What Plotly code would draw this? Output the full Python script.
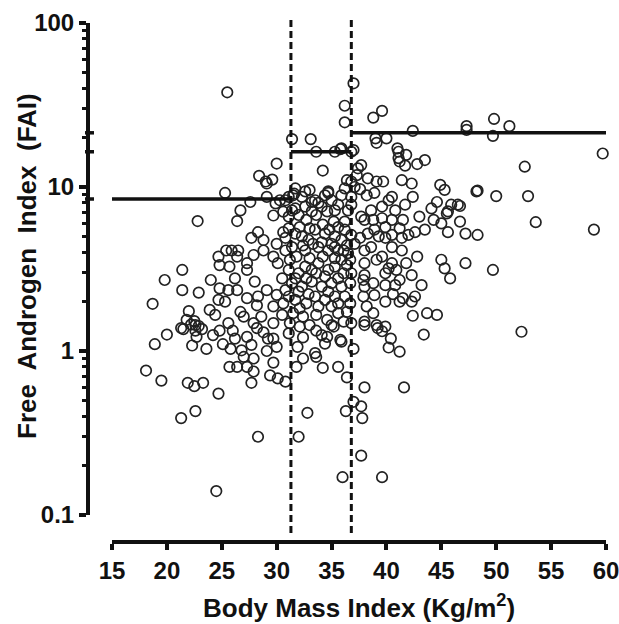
import plotly.graph_objects as go

# ---------------- data ----------------
# BMI cut points (vertical dashed lines) and FAI thresholds for each BMI band
bmi_cuts = [31.3, 36.8]
fai_thresholds = [8.45, 16.4, 21.4]

x_tickvals = [15, 20, 25, 30, 35, 40, 45, 50, 55, 60]
y_tickvals = [0.1, 1, 10, 100]
y_ticktext = ["0.1", "1", "10", "100"]

# Group A: BMI below the first cut
bmi_a = [30.0, 28.4, 29.0, 29.6, 29.1, 25.3, 29.1, 27.6, 30.3, 29.9,
         26.7, 30.6, 26.4, 22.8, 29.7, 30.6, 27.7, 28.3, 28.8, 30.0,
         30.8, 24.7, 25.4, 25.9, 26.5, 27.9, 27.3, 28.8, 29.7, 30.1,
         24.8, 25.7, 26.4, 21.4, 19.8, 21.4, 22.9, 24.0, 26.2, 27.3,
         28.0, 30.5, 24.8, 25.6, 26.4, 24.7, 25.3, 27.3, 28.3, 29.1,
         30.0, 30.8, 28.2, 29.7, 30.6, 18.7, 22.0, 23.9, 24.4, 26.7,
         27.0, 28.6, 30.5, 21.8, 22.6, 25.6, 27.9, 29.7,
         20.0, 18.9, 21.5, 22.6, 22.7, 23.2, 22.3, 23.6, 24.2, 24.8,
         25.1, 25.8, 26.0, 26.2, 27.3, 27.7, 26.8, 27.0, 27.9, 28.2,
         28.8, 29.2, 29.7, 30.0, 29.1, 29.7, 31.1, 25.7, 26.4, 27.3,
         27.9, 29.4, 30.1, 30.8, 18.1, 19.5, 21.9, 22.5, 23.3, 24.7,
         27.7, 22.6, 21.3, 28.3, 24.5,
         25.5, 21.3, 22.2, 22.5, 22.9, 31.1, 31.1, 31.1, 31.1, 31.1,
         31.2, 31.2, 30.8, 30.8]
fai_a = [13.9, 11.7, 10.8, 11.1, 10.5, 9.2, 8.7, 8.1, 8.3, 7.95,
         7.2, 7.07, 6.2, 6.2, 6.7, 5.3, 4.9, 5.3, 4.75, 4.5,
         4.1, 3.76, 4.1, 4.1, 4.1, 3.85, 3.43, 4.1, 3.76, 3.43,
         3.34, 3.27, 3.76, 3.12, 2.71, 2.35, 2.27, 2.71, 2.77, 3.12,
         2.65, 2.77, 2.41, 2.35, 2.35, 2.05, 2.0, 2.1, 2.15, 2.35,
         2.2, 2.35, 1.9, 1.87, 1.95, 1.94, 1.75, 1.78, 1.66, 1.73,
         1.62, 1.62, 1.66, 1.55, 1.44, 1.48, 1.48, 1.48,
         1.26, 1.10, 1.36, 1.33, 1.22, 1.36, 1.08, 1.03, 1.25, 1.33,
         1.10, 1.03, 1.33, 1.19, 1.22, 1.09, 1.01, 0.92, 0.90, 1.38,
         1.30, 1.19, 1.19, 1.06, 1.0, 0.85, 1.28, 0.80, 0.80, 0.80,
         0.75, 0.71, 0.68, 0.65, 0.76, 0.66, 0.64, 0.61, 0.64, 0.55,
         0.64, 0.43, 0.39, 0.30, 0.14,
         37.8, 1.38, 1.45, 1.52, 1.42, 8.7, 6.6, 5.6, 3.12, 2.15,
         1.48, 3.6, 8.3, 4.9]

# Group B: BMI between the two cuts
bmi_b = [33.6, 35.3, 34.2, 34.7, 34.4, 32.6, 31.5, 33.2, 33.8, 35.3,
         33.2, 31.4, 32.0, 36.2, 36.2, 35.3, 35.9, 35.0, 34.4, 33.5,
         32.9, 32.3, 31.7, 31.4, 32.6, 33.8, 34.7, 35.6, 36.5,
         31.7, 32.6, 34.1, 34.6, 33.6, 32.7, 32.1, 35.2, 36.2, 36.5,
         35.6, 36.4, 36.4, 36.7, 36.4, 36.1, 35.3, 34.7, 33.8, 33.2,
         32.6, 32.0, 31.4, 32.3, 33.2, 34.1, 35.0, 35.9, 36.7, 36.2,
         35.3, 34.4, 33.5, 32.7, 31.7, 31.5, 32.4, 33.6, 34.6, 35.6,
         36.4, 36.1, 35.0, 33.0,
         31.7, 33.0, 33.5, 35.0, 35.9, 32.3, 34.2, 34.8, 35.6, 33.0,
         32.4, 33.3, 34.1, 35.3, 36.1, 31.8, 33.0, 34.2, 35.3, 35.9,
         33.6, 34.4, 35.6, 32.7, 31.7, 34.7, 32.9, 32.0, 35.6, 33.8,
         35.0, 32.1, 36.7,
         32.1, 32.4, 31.9, 32.4, 31.8, 33.5, 33.6, 33.6, 34.1, 34.6,
         34.4, 35.2, 35.8, 35.9, 34.2, 35.6, 36.4, 36.3, 32.8, 32.0,
         36.0,
         36.2, 36.2, 35.9, 31.4, 33.1, 35.8, 31.6, 34.7]
fai_b = [16.4, 16.4, 12.6, 9.4, 8.9, 9.4, 8.9, 8.1, 8.0, 7.2,
         7.1, 7.2, 6.75, 9.8, 5.5, 5.0, 4.75, 4.5, 5.2, 5.5,
         4.75, 5.0, 5.2, 4.3, 4.1, 4.3, 4.1, 4.1, 3.95,
         7.4, 7.6, 7.6, 7.1, 6.75, 6.3, 5.7, 6.15, 6.15, 7.2,
         7.8, 11.0, 4.4, 3.6, 3.34, 2.98, 3.27, 3.12, 3.43, 3.12,
         3.27, 2.98, 2.59, 2.47, 2.65, 2.47, 2.59, 2.47, 2.59, 2.15,
         2.15, 2.05, 2.15, 1.95, 2.05, 1.7, 1.62, 1.66, 1.55, 1.7,
         1.73, 1.51, 1.44, 1.44,
         9.8, 9.6, 8.3, 8.3, 8.9, 8.7, 5.9, 5.5, 5.7, 5.6,
         4.4, 4.5, 4.6, 4.3, 4.1, 3.76, 3.68, 3.76, 3.68, 3.6,
         2.98, 2.85, 2.77, 2.77, 2.77, 2.3, 2.22, 2.3, 1.95, 1.87,
         1.87, 1.82, 1.95,
         1.41, 1.21, 1.06, 0.90, 0.80, 0.97, 0.92, 1.33, 1.25, 1.22,
         1.11, 1.41, 1.17, 1.14, 0.79, 0.80, 0.69, 0.43, 0.42, 0.30,
         0.17,
         31.3, 24.8, 17.2, 19.6, 19.6, 17.0, 9.1, 9.2]

# Group C: BMI above the second cut
bmi_c = [36.8, 36.8, 36.8, 36.8, 36.8, 36.8, 36.8,
         41.1, 41.8, 43.5, 41.2, 42.8, 37.7, 37.4, 38.3, 39.1, 39.7,
         41.4, 42.3, 44.9, 45.3, 48.2, 37.1, 37.6, 38.2, 38.9, 40.2,
         40.5, 41.7, 42.4, 44.6, 45.9, 46.5, 45.6, 44.1, 43.0, 38.0,
         38.8, 39.6, 40.5, 41.5, 44.3, 45.0, 46.7, 45.6, 48.3, 43.5,
         42.6, 42.0, 41.4, 40.5, 39.9, 39.3, 38.3, 37.6, 37.1, 39.6,
         40.5, 42.8, 45.0, 47.2, 45.3, 45.8, 40.9, 40.2, 41.2, 43.2,
         38.0, 37.9, 38.0, 38.9, 39.9, 40.6, 41.5, 42.6, 41.2, 42.3,
         37.9, 38.2, 38.8, 38.0, 43.7, 44.6, 42.4, 39.1, 39.9, 37.3,
         37.7, 38.6, 39.6, 40.8, 39.9, 38.9, 41.2, 38.6, 38.0, 40.5,
         41.4, 39.1, 38.0, 41.8, 39.9, 42.3, 38.8, 40.8, 39.9,
         37.0, 38.0, 39.2, 39.6, 40.4, 40.2, 41.2, 43.4, 38.0, 41.6,
         37.0, 37.7, 37.8, 37.7, 39.6,
         37.0, 38.8, 39.6, 42.4, 47.3, 47.3, 49.8, 49.7, 51.2, 59.7,
         37.0, 39.0, 39.1, 40.0, 41.0, 41.1, 41.7, 52.6, 48.3, 50.0,
         52.9, 53.6, 58.9, 46.7, 47.2, 45.5, 49.7, 52.3]
fai_c = [16.4, 7.8, 8.7, 10.8, 5.1, 2.98, 1.48,
         16.4, 15.7, 14.6, 14.3, 13.8, 13.6, 13.0, 11.3, 10.8, 10.8,
         11.0, 10.5, 10.3, 9.6, 9.4, 10.0, 9.7, 8.9, 9.2, 8.3,
         8.7, 7.8, 8.7, 8.1, 7.8, 7.8, 7.1, 7.4, 6.6, 6.3,
         6.3, 6.45, 6.3, 6.3, 6.3, 6.0, 6.15, 5.3, 5.1, 5.5,
         5.3, 5.1, 4.9, 5.1, 4.9, 5.0, 5.2, 4.9, 4.5, 3.76,
         3.43, 3.76, 3.6, 3.43, 3.19, 2.77, 3.12, 3.19, 2.71, 2.52,
         2.9, 2.71, 2.47, 2.19, 2.52, 2.22, 2.1, 2.15, 2.0, 2.0,
         2.15, 1.87, 1.7, 1.51, 1.7, 1.66, 1.64, 1.44, 1.41, 11.8,
         6.6, 7.2, 7.6, 7.2, 5.7, 5.5, 5.6, 4.3, 4.1, 4.3,
         4.1, 3.6, 3.43, 3.43, 2.98, 2.9, 2.59, 2.52, 2.0,
         1.03, 1.44, 1.38, 1.32, 1.19, 1.05, 0.99, 1.26, 0.60, 0.60,
         0.49, 0.46, 0.39, 0.23, 0.17,
         42.9, 26.5, 29.1, 22.0, 23.5, 22.3, 26.0, 20.5, 23.5, 16.0,
         16.8, 19.8, 18.6, 19.8, 17.2, 15.0, 13.5, 13.3, 9.5, 8.8,
         8.8, 6.1, 5.5, 7.66, 5.2, 6.9, 3.12, 1.31]

# ---------------- layout geometry ----------------
# The page body margin is removed (see post_script), so page px == figure px.
W, H = 619, 624
L, R, T, B = 80, 9, 20, 79


def px_x(p):
    """page pixel x -> paper fraction"""
    return (p - L) / (W - L - R)


def px_y(p):
    """page pixel y -> paper fraction"""
    return (H - B - p) / (H - T - B)


FONT = "Liberation Sans, Arial, sans-serif"
INK = "#111111"

fig = go.Figure()

marker = dict(symbol="circle-open", size=10.5, color="#222222",
              line=dict(width=1.7, color="#222222"))
for xs, ys in [(bmi_a, fai_a), (bmi_b, fai_b), (bmi_c, fai_c)]:
    fig.add_trace(go.Scatter(x=xs, y=ys, mode="markers", marker=marker,
                             hoverinfo="x+y", cliponaxis=False))

# horizontal threshold lines per BMI band
band_edges = [x_tickvals[0]] + bmi_cuts + [x_tickvals[-1]]
for i, thr in enumerate(fai_thresholds):
    fig.add_trace(go.Scatter(x=[band_edges[i], band_edges[i + 1]], y=[thr, thr],
                             mode="lines", line=dict(color=INK, width=3.5),
                             hoverinfo="skip"))

shapes = []
# vertical dashed cut lines
for c in bmi_cuts:
    shapes.append(dict(type="line", xref="x", yref="paper", x0=c, x1=c,
                       y0=px_y(533), y1=px_y(20),
                       line=dict(color=INK, width=3, dash="7px,4px")))
# small threshold marks on the y axis
for thr in fai_thresholds:
    shapes.append(dict(type="line", xref="paper", yref="y",
                       x0=px_x(85), x1=px_x(94), y0=thr, y1=thr,
                       line=dict(color=INK, width=3.5)))

minor_vals = [m * d for d in (0.1, 1, 10) for m in range(2, 10)]

fig.update_layout(
    width=W, height=H,
    margin=dict(l=L, r=R, t=T, b=B, autoexpand=False),
    paper_bgcolor="white", plot_bgcolor="white",
    showlegend=False,
    font=dict(family=FONT, color=INK),
    shapes=shapes,
    xaxis=dict(domain=[px_x(112), px_x(606)], range=[15, 60],
               anchor="free", position=px_y(542), automargin=False,
               showline=True, linewidth=4, linecolor=INK, mirror=False,
               ticks="outside", ticklen=6, tickwidth=3.5, tickcolor=INK,
               tickvals=x_tickvals, ticklabeloverflow="allow",
               tickfont=dict(family=FONT, size=24, color=INK, weight="bold"),
               showgrid=False, zeroline=False),
    yaxis=dict(type="log", domain=[px_y(515), px_y(23)], range=[-1, 2],
               anchor="free", position=px_x(88), automargin=False,
               showline=True, linewidth=4, linecolor=INK,
               ticks="outside", ticklen=7, tickwidth=3.5, tickcolor=INK,
               tickvals=y_tickvals, ticktext=y_ticktext,
               ticklabeloverflow="allow",
               tickfont=dict(family=FONT, size=24, color=INK, weight="bold"),
               minor=dict(tickvals=minor_vals, ticks="outside", ticklen=4,
                          tickwidth=2.5, tickcolor=INK, showgrid=False),
               showgrid=False, zeroline=False),
    annotations=[
        dict(text="Body Mass Index (Kg/m<sup>2</sup>)", xref="paper", yref="paper",
             x=px_x(359), y=px_y(606), xanchor="center", yanchor="middle",
             showarrow=False, font=dict(family=FONT, size=26, color=INK, weight="bold")),
        dict(text="Free  Androgen  Index  (FAI)", xref="paper", yref="paper",
             x=px_x(27), y=px_y(266), xanchor="center", yanchor="middle",
             textangle=-90, showarrow=False,
             font=dict(family=FONT, size=26, color=INK, weight="bold")),
    ],
)

fig.write_html("out.html",
               config={"displayModeBar": False},
               post_script="document.body.style.margin='0px';"
                           "document.body.style.overflow='hidden';")
